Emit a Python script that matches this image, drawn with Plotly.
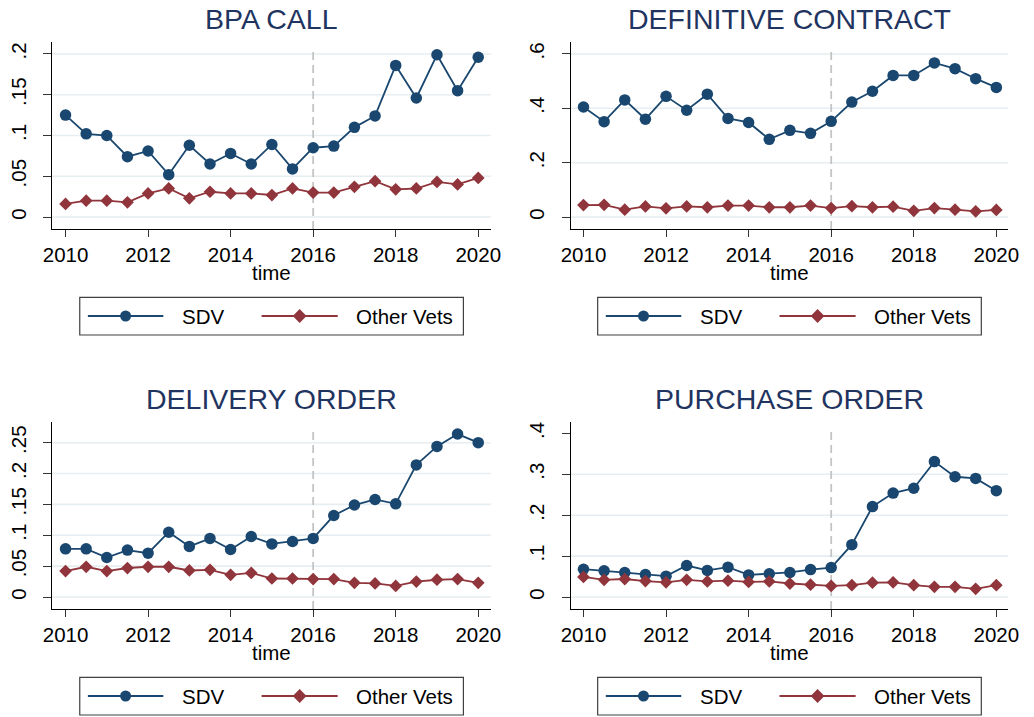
import plotly.graph_objects as go

# ---------------- data ----------------
time = [2010.0, 2010.5, 2011.0, 2011.5, 2012.0, 2012.5, 2013.0, 2013.5, 2014.0, 2014.5,
        2015.0, 2015.5, 2016.0, 2016.5, 2017.0, 2017.5, 2018.0, 2018.5, 2019.0, 2019.5, 2020.0]

panel_titles = ["BPA CALL", "DEFINITIVE CONTRACT", "DELIVERY ORDER", "PURCHASE ORDER"]
series_names = ["SDV", "Other Vets"]

bpa_sdv = [0.125, 0.102, 0.100, 0.074, 0.081, 0.052, 0.088, 0.065, 0.078, 0.065,
           0.089, 0.059, 0.085, 0.087, 0.110, 0.124, 0.186, 0.146, 0.199, 0.155, 0.196]
bpa_oth = [0.016, 0.020, 0.020, 0.018, 0.029, 0.035, 0.023, 0.031, 0.029, 0.029,
           0.027, 0.035, 0.030, 0.030, 0.037, 0.044, 0.034, 0.035, 0.043, 0.040, 0.048]

def_sdv = [0.405, 0.351, 0.431, 0.360, 0.444, 0.393, 0.452, 0.363, 0.348, 0.286,
           0.319, 0.308, 0.352, 0.423, 0.463, 0.521, 0.521, 0.567, 0.546, 0.509, 0.477]
def_oth = [0.044, 0.045, 0.027, 0.039, 0.032, 0.039, 0.036, 0.042, 0.042, 0.036,
           0.036, 0.042, 0.033, 0.040, 0.036, 0.038, 0.023, 0.033, 0.027, 0.021, 0.026]

del_sdv = [0.078, 0.078, 0.064, 0.076, 0.071, 0.105, 0.082, 0.095, 0.077, 0.098,
           0.086, 0.090, 0.095, 0.132, 0.149, 0.158, 0.151, 0.214, 0.244, 0.264, 0.250]
del_oth = [0.042, 0.049, 0.042, 0.047, 0.049, 0.049, 0.043, 0.044, 0.036, 0.039,
           0.030, 0.030, 0.029, 0.029, 0.023, 0.022, 0.018, 0.025, 0.028, 0.029, 0.023]

pur_sdv = [0.068, 0.064, 0.060, 0.055, 0.051, 0.077, 0.065, 0.073, 0.054, 0.057,
           0.060, 0.067, 0.072, 0.128, 0.221, 0.254, 0.266, 0.331, 0.294, 0.290, 0.260]
pur_oth = [0.049, 0.042, 0.044, 0.039, 0.036, 0.042, 0.038, 0.040, 0.037, 0.038,
           0.033, 0.030, 0.027, 0.029, 0.035, 0.036, 0.029, 0.025, 0.025, 0.020, 0.029]

x_ticks = [2010, 2012, 2014, 2016, 2018, 2020]
x_ticklabels = ["2010", "2012", "2014", "2016", "2018", "2020"]
policy_year = 2016

y_ticks = [
    [0, 0.05, 0.1, 0.15, 0.2],
    [0, 0.2, 0.4, 0.6],
    [0, 0.05, 0.1, 0.15, 0.2, 0.25],
    [0, 0.1, 0.2, 0.3, 0.4],
]
y_ticklabels = [
    ["0", ".05", ".1", ".15", ".2"],
    ["0", ".2", ".4", ".6"],
    ["0", ".05", ".1", ".15", ".2", ".25"],
    ["0", ".1", ".2", ".3", ".4"],
]
y_grid = [
    [0, 0.05, 0.1, 0.15, 0.2],
    [0, 0.2, 0.4, 0.6],
    [0, 0.05, 0.1, 0.15, 0.2, 0.25],
    [0, 0.1, 0.2, 0.3],
]
y_ranges = [[-0.0147, 0.2147], [-0.044, 0.644], [-0.0194, 0.284], [-0.0293, 0.4286]]
x_ranges = [[2009.675, 2020.31], [2009.69, 2020.29], [2009.675, 2020.31], [2009.69, 2020.29]]

panels = [(bpa_sdv, bpa_oth), (def_sdv, def_oth), (del_sdv, del_oth), (pur_sdv, pur_oth)]

# ---------------- styling / layout ----------------
W, H = 1034, 717
FONT = "Arial, Liberation Sans, Helvetica, sans-serif"
C_SDV = "#1a476f"
C_OTH = "#90353b"
TITLE_C = "#1f3460"
GRID_C = "#e6eef1"

# pixel boxes of plot areas (x0, x1, ytop, ybottom)
boxes = [(43, 491, 42, 229), (572.3, 1019, 42, 229),
         (43, 491, 421.7, 609), (572.3, 1019, 421.7, 609)]

def px(x):
    return x / W

def py(y):
    return 1 - y / H

fig = go.Figure()
shapes = []
annotations = []

for i, (sdv, oth) in enumerate(panels):
    n = "" if i == 0 else str(i + 1)
    xa, ya = "x" + n, "y" + n
    fig.add_trace(go.Scatter(
        x=time, y=sdv, mode="lines+markers", name=series_names[0], xaxis=xa, yaxis=ya,
        line=dict(color=C_SDV, width=1.8), marker=dict(symbol="circle", size=11.5, color=C_SDV),
        showlegend=False, cliponaxis=False))
    fig.add_trace(go.Scatter(
        x=time, y=oth, mode="lines+markers", name=series_names[1], xaxis=xa, yaxis=ya,
        line=dict(color=C_OTH, width=1.8), marker=dict(symbol="diamond", size=9.8, color=C_OTH),
        showlegend=False, cliponaxis=False))

    x0, x1, yt, yb = boxes[i]
    axis_common = dict(showline=True, linecolor="black", linewidth=1.3, ticks="outside",
                       tickcolor="#333333", tickwidth=1.3, zeroline=False, showgrid=False,
                       tickfont=dict(family=FONT, size=20.5, color="black"), fixedrange=True)
    fig.layout["xaxis" + n] = dict(
        domain=[px(x0), px(x1)], anchor=ya, range=x_ranges[i], tickvals=x_ticks,
        ticktext=x_ticklabels, ticklen=7, **axis_common)
    fig.layout["yaxis" + n] = dict(
        domain=[py(yb), py(yt)], anchor=xa, range=y_ranges[i], tickvals=y_ticks[i],
        ticktext=y_ticklabels[i], ticklen=8, tickangle=-90, ticklabelstandoff=9,
        **axis_common)

    # gridlines
    for g in y_grid[i]:
        shapes.append(dict(type="line", xref=xa + " domain", yref=ya, x0=0, x1=1, y0=g, y1=g,
                           line=dict(color=GRID_C, width=1.6), layer="below"))
    # policy line
    shapes.append(dict(type="line", xref=xa, yref=ya + " domain", x0=policy_year, x1=policy_year,
                       y0=0, y1=0.97, line=dict(color="#c4c4c4", width=1.8, dash="8px,5px"),
                       layer="below"))

    cx = (x0 + x1) / 2
    # panel title
    annotations.append(dict(text=panel_titles[i], x=px(cx), y=py(yt - 23), xref="paper", yref="paper",
                            xanchor="center", yanchor="middle", showarrow=False,
                            font=dict(family=FONT, size=28.5, color=TITLE_C)))
    # x-axis title
    annotations.append(dict(text="time", x=px(cx), y=py(yb + 43), xref="paper", yref="paper",
                            xanchor="center", yanchor="middle", showarrow=False,
                            font=dict(family=FONT, size=20.5, color="black")))

    # legend box (drawn)
    lx0 = cx - 195.8
    lx1 = cx + 195.8
    ly0 = yb + 68.3
    ly1 = yb + 106
    ly = yb + 87
    shapes.append(dict(type="rect", xref="paper", yref="paper", x0=px(lx0), x1=px(lx1),
                       y0=py(ly1), y1=py(ly0), line=dict(color="#404040", width=1.2),
                       fillcolor="white"))
    # SDV key
    k1a, k1b = lx0 + 8.3, lx0 + 85.3
    shapes.append(dict(type="line", xref="paper", yref="paper", x0=px(k1a), x1=px(k1b),
                       y0=py(ly), y1=py(ly), line=dict(color=C_SDV, width=1.8)))
    kc = (k1a + k1b) / 2
    r = 5.6
    shapes.append(dict(type="circle", xref="paper", yref="paper", x0=px(kc - r), x1=px(kc + r),
                       y0=py(ly + r), y1=py(ly - r), line=dict(color=C_SDV, width=0),
                       fillcolor=C_SDV))
    annotations.append(dict(text=series_names[0], x=px(lx0 + 102.6), y=py(ly), xref="paper",
                            yref="paper", xanchor="left", yanchor="middle", showarrow=False,
                            font=dict(family=FONT, size=20.5, color="black")))
    # Other Vets key
    k2a, k2b = lx0 + 185.6, lx0 + 263.3
    shapes.append(dict(type="line", xref="paper", yref="paper", x0=px(k2a), x1=px(k2b),
                       y0=py(ly), y1=py(ly), line=dict(color=C_OTH, width=1.8)))
    kd = (k2a + k2b) / 2
    d = 7
    path = "M {},{} L {},{} L {},{} L {},{} Z".format(
        px(kd - d), py(ly), px(kd), py(ly - d), px(kd + d), py(ly), px(kd), py(ly + d))
    shapes.append(dict(type="path", xref="paper", yref="paper", path=path,
                       line=dict(color=C_OTH, width=0), fillcolor=C_OTH))
    annotations.append(dict(text=series_names[1], x=px(lx0 + 280), y=py(ly), xref="paper",
                            yref="paper", xanchor="left", yanchor="middle", showarrow=False,
                            font=dict(family=FONT, size=20.5, color="black")))

fig.update_layout(
    width=W, height=H, autosize=False,
    margin=dict(l=0, r=0, t=0, b=0, pad=0),
    paper_bgcolor="white", plot_bgcolor="white",
    font=dict(family=FONT, size=20, color="black"),
    shapes=shapes, annotations=annotations, showlegend=False,
)

fig.write_html("out.html", config={"displayModeBar": False},
               post_script="document.body.style.margin='0';")
